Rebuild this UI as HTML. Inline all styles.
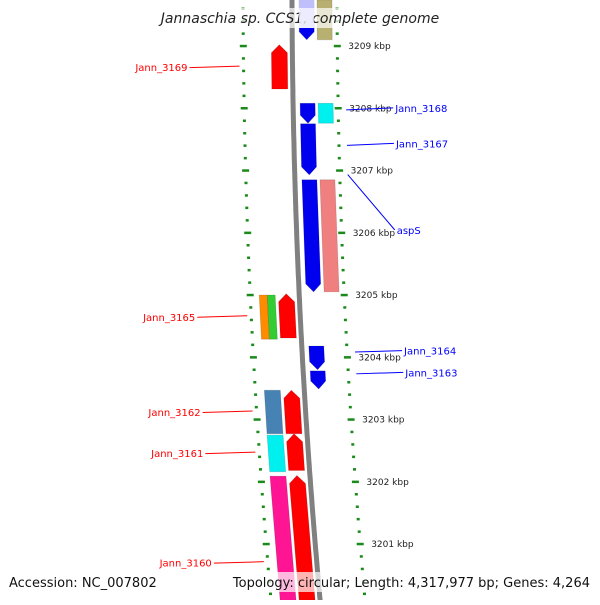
<!DOCTYPE html>
<html><head><meta charset="utf-8"><style>
body{margin:0;background:#fff}
svg text{font-family:"DejaVu Sans","Liberation Sans",sans-serif}
</style></head><body>
<svg id="map" width="600" height="600" viewBox="0 0 600 600" xmlns="http://www.w3.org/2000/svg">
<defs>
<linearGradient id="bb" x1="0" x2="1"><stop offset="0" stop-color="#aaa"/><stop offset="0.5" stop-color="#666"/><stop offset="1" stop-color="#999"/></linearGradient>
</defs>
<g id="ticks"></g>
<g id="genes"></g>
<g id="labels"></g>
<rect x="160" y="8" width="280" height="20" fill="#fff" fill-opacity="0.7"/>
<text x="300" y="23" font-size="14" font-style="italic" text-anchor="middle" fill="#222">Jannaschia sp. CCS1, complete genome</text>
<rect x="5" y="572" width="142" height="20" fill="#fff" fill-opacity="0.7"/>
<text x="9" y="587" font-size="13" fill="#111">Accession: NC_007802</text>
<rect x="258" y="572" width="336" height="20" fill="#fff" fill-opacity="0.7"/>
<text x="590" y="587" font-size="13" text-anchor="end" fill="#111">Topology: circular; Length: 4,317,977 bp; Genes: 4,264</text>
</svg>
<script>
// data
const geneStart=[3209.74,3209.74,3209.02,3208.08,3208.08,3207.75,3206.85,3206.85,3205.00,3205.00,3205.02,3204.18,3203.78,3203.47,3203.47,3202.75,3202.77,3202.09,3202.10];
const geneEnd=[3209.10,3209.10,3208.31,3207.76,3207.76,3206.93,3205.05,3205.05,3204.29,3204.29,3204.31,3203.80,3203.49,3202.77,3202.77,3202.16,3202.18,3200.00,3200.00];
const geneLane=['R1','R2','L1','R1','R2','R1','R1','R2','L2a','L2b','L1','R1','R1','L2','L1','L2','L1','L2','L1'];
const geneStrand=[-1,0,1,-1,0,-1,-1,0,0,0,1,-1,-1,0,1,0,1,0,1];
const geneColor=['#0000ee','#b8b070','#ff0000','#0000ee','#00f0f0','#0000ee','#0000ee','#f08080','#ff8c00','#33cc33','#ff0000','#0000ee','#0000ee','#4682b4','#ff0000','#00f0f0','#ff0000','#ff1493','#ff0000'];
const tickLabels=[3201,3202,3203,3204,3205,3206,3207,3208,3209];
const leftLabelNames=['Jann_3169','Jann_3165','Jann_3162','Jann_3161','Jann_3160'];
const leftLabelKbp=[3208.66,3204.65,3203.12,3202.46,3200.70];
const rightLabelNames=['Jann_3168','Jann_3167','aspS','Jann_3164','Jann_3163'];
const rightLabelKbp=[3207.99,3207.42,3206.95,3204.10,3203.75];
const rightLabelTextKbp=[3207.99,3207.42,3206.03,3204.09,3203.74];

const NS='http://www.w3.org/2000/svg';
function yOf(k){return 46+(3209-k)*62.25;}
function f(y){return 0.003*y+7.3e-5*y*y;}
function bx(y){return 292+f(y);}
function mk(tag,attrs,parent){const e=document.createElementNS(NS,tag);for(const a in attrs)e.setAttribute(a,attrs[a]);parent.appendChild(e);return e;}
const map=document.getElementById('map');
// backbone
let d='';for(let y=-5;y<=605;y+=5){d+=(y<0?'M':'L')+bx(y).toFixed(1)+','+y;}
const bb=mk('path',{d:d,stroke:'#808080','stroke-width':5,fill:'none'},map);


map.insertBefore(bb,map.firstChild.nextSibling);
// ticks
const tg=document.getElementById('ticks');
for(let i=0;i<=55;i++){const k=3210-i*0.2;const y=yOf(k);if(y<-5||y>605)continue;
 const major=Math.abs(k-Math.round(k))<0.01;const w=major?7:3;
 [243,337].forEach((base,si)=>{const x=base+f(y);
  const t=mk('rect',{x:(x-w/2).toFixed(1),y:(y-1.2).toFixed(1),width:w,height:2.5,fill:'#1b8a1b'},tg);
  
  
 });
}
tickLabels.forEach(k=>{const y=yOf(k);const t=mk('text',{x:(348+f(y)).toFixed(1),y:(y+3).toFixed(1),'font-size':9,fill:'#222'},tg);t.textContent=k+' kbp';
 
 });
// genes
const lanes={R1:[7,22],R2:[25,40],L1:[-21,-5],L2:[-40,-24],L2a:[-40,-32],L2b:[-32,-24]};
const gg=document.getElementById('genes');
for(let i=0;i<geneStart.length;i++){
 const y1=yOf(geneStart[i]),y2=yOf(geneEnd[i]);const[a,b]=lanes[geneLane[i]];
 const x1=bx(y1),x2=bx(y2);const s=geneStrand[i];const h=8;let pts;
 if(s===1){const ym=y1+h,xm=bx(ym);pts=[[x2+a,y2],[x2+b,y2],[xm+b,ym],[(x1+(a+b)/2),y1],[xm+a,ym]];}
 else if(s===-1){const ym=y2-h,xm=bx(ym);pts=[[x1+a,y1],[x1+b,y1],[xm+b,ym],[(x2+(a+b)/2),y2],[xm+a,ym]];}
 else pts=[[x1+a,y1],[x1+b,y1],[x2+b,y2],[x2+a,y2]];
 const p=mk('polygon',{points:pts.map(q=>q[0].toFixed(1)+','+q[1].toFixed(1)).join(' '),fill:geneColor[i],stroke:'rgba(0,0,0,0.15)','stroke-width':0.8},gg);
 
 
}
// labels
const lg=document.getElementById('labels');
leftLabelNames.forEach((n,i)=>{const y=yOf(leftLabelKbp[i]);const xe=239+f(y);
 const l=mk('line',{x1:xe-50,y1:y+0.5,x2:xe,y2:y-1,stroke:'#ff0000','stroke-width':1},lg);
 
 
 const t=mk('text',{x:xe-52,y:y+4,'font-size':10,'text-anchor':'end',fill:'#ff0000'},lg);t.textContent=n;
 
 });
rightLabelNames.forEach((n,i)=>{const y=yOf(rightLabelKbp[i]);const yt=yOf(rightLabelTextKbp[i]);const xs=345+f(y);
 const l=mk('line',{x1:xs,y1:y+1,x2:xs+47,y2:yt-1,stroke:'#0000ff','stroke-width':1},lg);
 
 
 const t=mk('text',{x:xs+49,y:yt+3,'font-size':10,fill:'#0000ff'},lg);t.textContent=n;
 
 });
// pale highlight behind top blue gene
const hl=mk('rect',{x:bx(0)+7,y:0,width:15,height:28,fill:'#fff','fill-opacity':0.75},map);


</script>
</body></html>
